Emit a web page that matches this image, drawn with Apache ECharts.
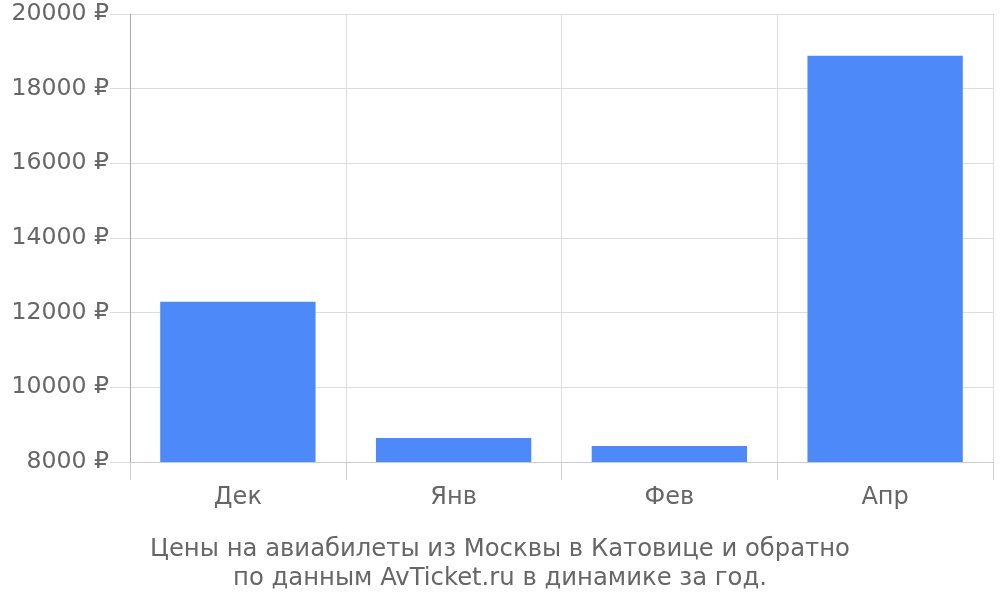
<!DOCTYPE html>
<html><head><meta charset="utf-8">
<script src="https://cdn.jsdelivr.net/npm/echarts@6/dist/echarts.min.js"></script>
<style>html,body{margin:0;padding:0;background:#fff}#c{width:1000px;height:600px}</style>
</head><body><div id="c"></div>
<script>
const categories = ['Дек', 'Янв', 'Фев', 'Апр'];
const prices = [12290, 8640, 8430, 18880];
const yTicks = [8000, 10000, 12000, 14000, 16000, 18000, 20000];
const titleLines = ['Цены на авиабилеты из Москвы в Катовице и обратно', 'по данным AvTicket.ru в динамике за год.'];

const chart = echarts.init(document.getElementById('c'));
chart.setOption({
  animation: false,
  textStyle: { fontFamily: 'DejaVu Sans' },
  title: {
    text: titleLines.join('\n'),
    left: 'center', top: 530,
    textStyle: { fontFamily: 'DejaVu Sans', fontSize: 24.3, fontWeight: 'normal', color: '#666', lineHeight: 29, align: 'center' }
  },
  grid: { left: 130, right: 7, top: 14, bottom: 138, containLabel: false },
  xAxis: {
    type: 'category', data: categories,
    axisLine: { show: true, lineStyle: { color: '#ccc' } },
    axisTick: { show: true, length: 18, lineStyle: { color: '#ccc' } },
    splitLine: { show: true, lineStyle: { color: '#ddd' } },
    axisLabel: { color: '#666', fontSize: 24, margin: 24, fontFamily: 'DejaVu Sans' }
  },
  yAxis: {
    type: 'value', min: yTicks[0], max: yTicks[yTicks.length - 1], interval: 2000,
    axisLine: { show: true, lineStyle: { color: '#aaa' } },
    axisTick: { show: true, length: 20, lineStyle: { color: '#ddd' } },
    splitLine: { show: true, lineStyle: { color: '#ddd' } },
    axisLabel: { color: '#666', fontSize: 23.6, margin: 21, fontFamily: 'DejaVu Sans', formatter: v => v + ' ₽' }
  },
  series: [{
    type: 'bar', data: prices, barCategoryGap: '28%',
    itemStyle: { color: '#4d89f9' }
  }]
});
</script></body></html>
